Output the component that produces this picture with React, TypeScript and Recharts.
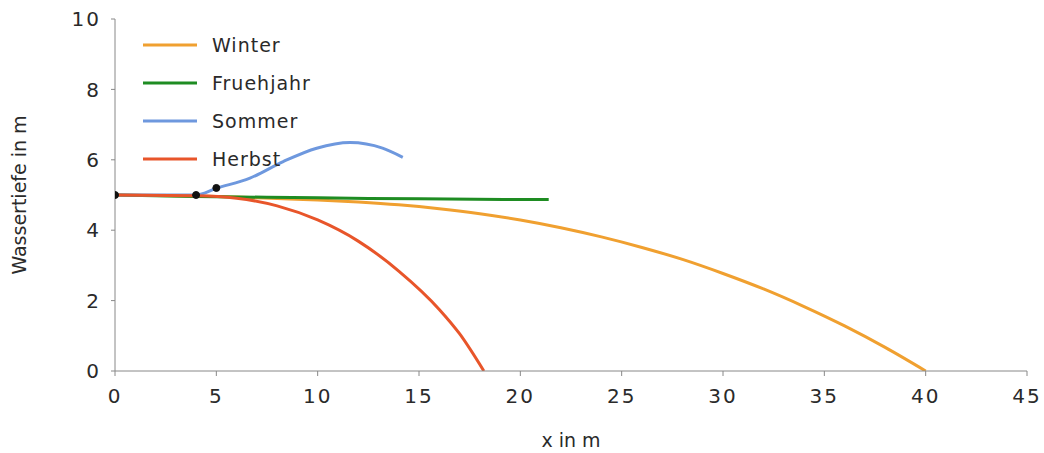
import React from 'react';
import { LineChart, Line, XAxis, YAxis } from 'recharts';

const xTicks = [0, 5, 10, 15, 20, 25, 30, 35, 40, 45];
const yTicks = [0, 2, 4, 6, 8, 10];

const winterX = [0, 4, 6, 8, 10, 12, 14, 16, 18, 20, 22, 24, 26, 28, 30, 32, 34, 36, 38, 40];
const winterY = [5, 4.97, 4.94, 4.9, 4.86, 4.8, 4.72, 4.61, 4.47, 4.29, 4.07, 3.81, 3.51, 3.17, 2.77, 2.33, 1.83, 1.28, 0.67, 0];

const fruehjahrX = [0, 4, 10, 15, 21.4];
const fruehjahrY = [5, 4.96, 4.92, 4.89, 4.87];

const sommerX = [0, 4, 5, 6.66, 8.3, 9.95, 11.6, 13.2, 14.2];
const sommerY = [5, 5, 5.19, 5.48, 5.95, 6.33, 6.49, 6.33, 6.07];

const herbstX = [0, 4, 6, 8, 10, 12, 14, 16, 17, 18.2];
const herbstY = [5, 4.98, 4.91, 4.69, 4.29, 3.69, 2.84, 1.75, 1.06, 0];

const markX = [0, 4, 5];
const markY = [5, 5, 5.2];

const names = ['Winter', 'Fruehjahr', 'Sommer', 'Herbst'];
const colors = ['#F0A030', '#1E8C22', '#6E98DE', '#E8552A'];

const toPts = (xs: number[], ys: number[]) => xs.map((x, i) => ({ x, y: ys[i] }));

const series = [
  toPts(winterX, winterY),
  toPts(fruehjahrX, fruehjahrY),
  toPts(sommerX, sommerY),
  toPts(herbstX, herbstY),
];
const marks = toPts(markX, markY);

const FONT = '"DejaVu Sans", sans-serif';

const LegendBox = () => (
  <div style={{ position: 'absolute', left: 142, top: 26, fontFamily: FONT }}>
    {names.map((n, i) => (
      <div key={n} style={{ display: 'flex', alignItems: 'center', height: 38 }}>
        <svg width={56} height={6} style={{ display: 'block' }}>
          <line x1={1} y1={3} x2={55} y2={3} stroke={colors[i]} strokeWidth={3} />
        </svg>
        <span style={{ marginLeft: 14, fontSize: 19, letterSpacing: 1, color: '#2a2a2a' }}>{n}</span>
      </div>
    ))}
  </div>
);

const YLabel = (props: any) => {
  const vb = props.viewBox || {};
  const cx = 19;
  const cy = (vb.y || 0) + (vb.height || 0) / 2;
  return (
    <text
      x={cx}
      y={cy}
      transform={`rotate(-90, ${cx}, ${cy})`}
      textAnchor="middle"
      dominantBaseline="central"
      fontFamily={FONT}
      fontSize={19}
      fill="#2a2a2a"
    >
      Wassertiefe in m
    </text>
  );
};

export default function App() {
  return (
    <div style={{ position: 'absolute', left: 0, top: 0, width: 1044, height: 453, background: '#fff' }}>
      <LineChart width={1044} height={453} margin={{ top: 19, right: 17, bottom: 0, left: 0 }}>
        <XAxis
          type="number"
          dataKey="x"
          domain={[0, 45]}
          ticks={xTicks}
          height={82}
          stroke="#888"
          tickSize={5}
          tickMargin={13}
          tick={{ fill: '#2a2a2a', fontSize: 20, fontFamily: FONT, letterSpacing: 2 }}
          label={{ value: 'x in m', position: 'insideBottom', offset: 6, fill: '#2a2a2a', fontSize: 19, fontFamily: FONT }}
          allowDataOverflow
        />
        <YAxis
          type="number"
          dataKey="y"
          domain={[0, 10]}
          ticks={yTicks}
          width={115}
          stroke="#888"
          tickSize={4}
          tickMargin={10}
          tick={{ fill: '#2a2a2a', fontSize: 20, fontFamily: FONT, letterSpacing: 2 }}
          label={<YLabel />}
          allowDataOverflow
        />
        {series.map((d, i) => (
          <Line
            key={names[i]}
            name={names[i]}
            data={d}
            dataKey="y"
            type="monotone"
            stroke={colors[i]}
            strokeWidth={3}
            dot={false}
            activeDot={false}
            isAnimationActive={false}
          />
        ))}
        <Line
          name="marks"
          data={marks}
          dataKey="y"
          stroke="none"
          legendType="none"
          dot={{ r: 3.5, fill: '#111', stroke: '#111' }}
          activeDot={false}
          isAnimationActive={false}
        />
      </LineChart>
      <LegendBox />
    </div>
  );
}
